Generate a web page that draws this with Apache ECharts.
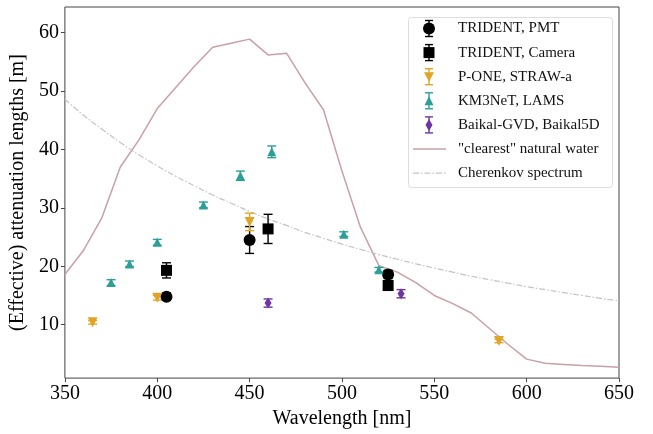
<!DOCTYPE html>
<html>
<head>
<meta charset="utf-8">
<script src="https://cdn.jsdelivr.net/npm/echarts@6/dist/echarts.min.js"></script>
<style>html,body{margin:0;padding:0;background:#fff}#c{width:653px;height:434px}</style>
</head>
<body>
<div id="c"></div>
<script>
// ---- data ----
const waterWl  = [350,360,370,380,390,400,410,420,430,440,450,460,470,480,490,500,510,520,530,540,550,560,570,580,590,600,610,620,630,640,650];
const waterLen = [18.6,22.7,28.3,37.0,41.6,47.0,50.6,54.2,57.5,58.2,58.9,56.2,56.5,51.4,46.8,36.3,26.7,20.1,19.0,17.2,15.0,13.6,12.0,9.3,6.6,4.1,3.4,3.2,3.0,2.9,2.7];
const cherWl   = [350,360,370,380,390,400,410,420,430,440,450,460,470,480,490,500,510,520,530,540,550,560,570,580,590,600,610,620,630,640,650];
const cherLen  = [48.6,45.9,43.5,41.2,39.1,37.2,35.4,33.8,32.2,30.8,29.4,28.1,27.0,25.8,24.8,23.8,22.9,22.0,21.2,20.4,19.7,19.0,18.3,17.7,17.1,16.5,16.0,15.5,15.0,14.5,14.1];

const pmtWl = [405,450,525];          const pmtLen = [14.8,24.5,18.6];          const pmtErr = [0.6,2.3,0.7];
const camWl = [405,460,525];          const camLen = [19.3,26.4,16.7];          const camErr = [1.3,2.5,0.8];
const poneWl = [365,400,450,585];     const poneLen = [10.4,14.6,27.6,7.2];     const poneErr = [0.3,0.4,1.5,0.3];
const km3Wl = [375,385,400,425,445,462,501,520];
const km3Len = [17.2,20.4,24.1,30.5,35.5,39.6,25.5,19.4];
const km3Err = [0.5,0.5,0.5,0.5,0.8,1.0,0.4,0.4];
const baikalWl = [460,532];           const baikalLen = [13.7,15.3];            const baikalErr = [0.7,0.7];

const yTicks = [10,20,30,40,50,60];
const legendNames = ['TRIDENT, PMT','TRIDENT, Camera','P-ONE, STRAW-a','KM3NeT, LAMS','Baikal-GVD, Baikal5D','"clearest" natural water','Cherenkov spectrum'];

// ---- build ----
const FONT = 'Liberation Serif';
function pairs(xs, ys){ return xs.map((x,i)=>[x, ys[i]]); }
function triples(xs, ys, es){ return xs.map((x,i)=>[x, ys[i], es[i]]); }

function errSeries(name, xs, ys, es, color){
  return {
    type:'custom', name: name+'_err', z: 3,
    data: triples(xs, ys, es),
    encode:{x:0, y:1},
    renderItem: function(params, api){
      const x = api.value(0), y = api.value(1), e = api.value(2);
      const t = api.coord([x, y+e]), b = api.coord([x, y-e]);
      const cw = 4.5;
      const st = {stroke: color, lineWidth: 1.4};
      return {type:'group', children:[
        {type:'line', shape:{x1:t[0], y1:t[1], x2:b[0], y2:b[1]}, style: st},
        {type:'line', shape:{x1:t[0]-cw, y1:t[1], x2:t[0]+cw, y2:t[1]}, style: st},
        {type:'line', shape:{x1:b[0]-cw, y1:b[1], x2:b[0]+cw, y2:b[1]}, style: st}
      ]};
    },
    silent: true
  };
}
function markSeries(name, xs, ys, color, symbol, size, rotate){
  return {
    type:'scatter', name: name, z: 5,
    data: pairs(xs, ys),
    symbol: symbol, symbolSize: size, symbolRotate: rotate || 0,
    itemStyle: {color: color, opacity: 1}
  };
}

const cPMT = '#000000', cCam = '#000000', cPone = '#e0a526', cKm3 = '#2e9e98', cBaikal = '#6f35a0';
const cWater = '#c9a0a6', cCher = '#c4c4c4';

// ---- legend drawn as graphic ----
const LX = 408, LY = 17, LW = 204, LH = 170;
const mx = 429, tx = 458, y0 = 28.5, dy = 24.1;
const legendEls = [{type:'rect', shape:{x:LX+0.5, y:LY+0.5, width:LW, height:LH, r:3}, style:{fill:'#fff', stroke:'#dddddd', lineWidth:1}, z:100}];
function legErr(cy, color){
  const st = {stroke: color, lineWidth: 1.4};
  return [
    {type:'line', shape:{x1:mx, y1:cy-8, x2:mx, y2:cy+8}, style: st, z:101},
    {type:'line', shape:{x1:mx-4, y1:cy-8, x2:mx+4, y2:cy-8}, style: st, z:101},
    {type:'line', shape:{x1:mx-4, y1:cy+8, x2:mx+4, y2:cy+8}, style: st, z:101}
  ];
}
const legMarkers = [
  (cy)=>({type:'circle', shape:{cx:mx, cy:cy, r:6}, style:{fill:cPMT}, z:102}),
  (cy)=>({type:'rect', shape:{x:mx-5.5, y:cy-5.5, width:11, height:11}, style:{fill:cCam}, z:102}),
  (cy)=>({type:'polygon', shape:{points:[[mx-5,cy-4.5],[mx+5,cy-4.5],[mx,cy+5]]}, style:{fill:cPone}, z:102}),
  (cy)=>({type:'polygon', shape:{points:[[mx-4.5,cy+4.5],[mx+4.5,cy+4.5],[mx,cy-4.5]]}, style:{fill:cKm3}, z:102}),
  (cy)=>({type:'polygon', shape:{points:[[mx,cy-6],[mx+3.5,cy],[mx,cy+6],[mx-3.5,cy]]}, style:{fill:cBaikal}, z:102})
];
const legColors = [cPMT, cCam, cPone, cKm3, cBaikal];
legendNames.forEach((nm, i)=>{
  const cy = y0 + i*dy;
  if (i < 5){
    legendEls.push(...legErr(cy, legColors[i]));
    legendEls.push(legMarkers[i](cy));
  } else if (i === 5){
    legendEls.push({type:'line', shape:{x1:413, y1:cy, x2:446, y2:cy}, style:{stroke:cWater, lineWidth:1.5}, z:101});
  } else {
    legendEls.push({type:'line', shape:{x1:413, y1:cy, x2:446, y2:cy}, style:{stroke:cCher, lineWidth:1.2, lineDash:[6,2,1.5,2]}, z:101});
  }
  legendEls.push({type:'text', x: tx, y: cy, style:{text: nm, fontFamily: FONT, fontSize: 15, fill:'#111', verticalAlign:'middle', align:'left'}, z:102});
});

const chart = echarts.init(document.getElementById('c'), null, {renderer:'canvas'});
chart.setOption({
  animation: false,
  backgroundColor: '#ffffff',
  grid: {left: 63, right: 34, top: 7, bottom: 51, show: true, borderColor: '#444', borderWidth: 1, backgroundColor: 'transparent'},
  xAxis: {
    type: 'value', min: 350, max: 650, interval: 50,
    name: 'Wavelength [nm]', nameLocation: 'middle', nameGap: 28,
    nameTextStyle: {fontFamily: FONT, fontSize: 20, color: '#000'},
    axisLine: {show: false},
    axisTick: {show: true, length: 4, inside: false, lineStyle: {color: '#444'}},
    axisLabel: {fontFamily: FONT, fontSize: 20, color: '#000', margin: 6},
    splitLine: {show: false}
  },
  yAxis: {
    type: 'value', min: 0.85, max: 64.4,
    name: '(Effective) attenuation lengths [m]', nameLocation: 'middle', nameGap: 35, nameRotate: 90,
    nameTextStyle: {fontFamily: FONT, fontSize: 20, color: '#000'},
    axisLine: {show: false},
    axisTick: {show: true, length: 4, customValues: yTicks, lineStyle: {color: '#444'}},
    axisLabel: {fontFamily: FONT, fontSize: 20, color: '#000', margin: 6, customValues: yTicks},
    splitLine: {show: false}
  },
  graphic: {elements: legendEls},
  series: [
    {type:'line', name:'"clearest" natural water', data: pairs(waterWl, waterLen), symbol:'none', z: 2,
     lineStyle:{color:cWater, width:1.5}, itemStyle:{color:cWater}},
    {type:'line', name:'Cherenkov spectrum', data: pairs(cherWl, cherLen), symbol:'none', smooth: true, z: 2,
     lineStyle:{color:cCher, width:1.2, type:[6,2,1.5,2]}, itemStyle:{color:cCher}},
    errSeries('pmt', pmtWl, pmtLen, pmtErr, cPMT),
    errSeries('cam', camWl, camLen, camErr, cCam),
    errSeries('pone', poneWl, poneLen, poneErr, cPone),
    errSeries('km3', km3Wl, km3Len, km3Err, cKm3),
    errSeries('baikal', baikalWl, baikalLen, baikalErr, cBaikal),
    markSeries('TRIDENT, PMT', pmtWl, pmtLen, cPMT, 'circle', 12),
    markSeries('TRIDENT, Camera', camWl, camLen, cCam, 'rect', 11),
    markSeries('P-ONE, STRAW-a', poneWl, poneLen, cPone, 'triangle', 10, 180),
    markSeries('KM3NeT, LAMS', km3Wl, km3Len, cKm3, 'triangle', 9),
    markSeries('Baikal-GVD, Baikal5D', baikalWl, baikalLen, cBaikal, 'diamond', [7,11])
  ]
});
</script>
</body>
</html>
